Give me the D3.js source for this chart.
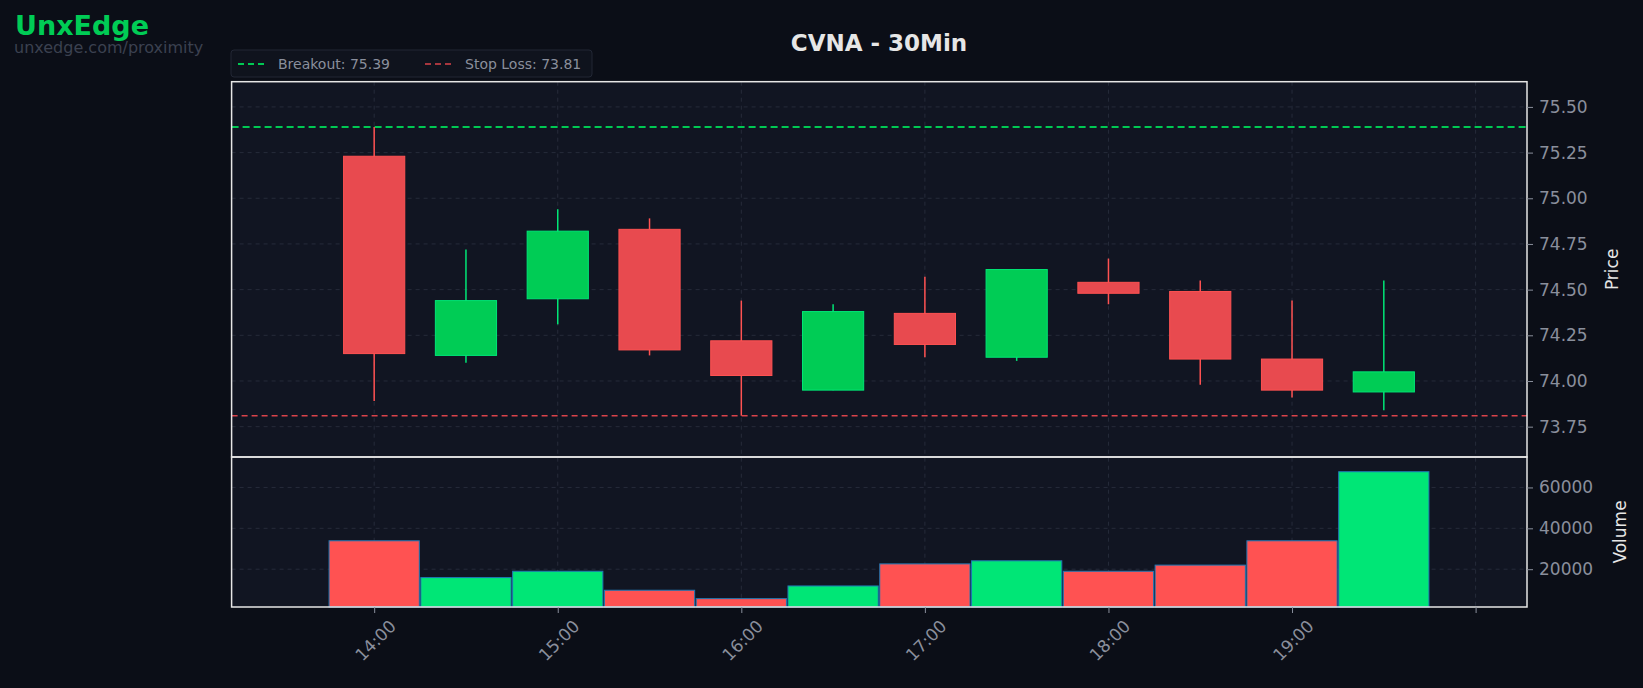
<!DOCTYPE html>
<html><head><meta charset="utf-8">
<script src="https://cdn.jsdelivr.net/npm/d3@7"></script>
<style>
body{margin:0;background:#0b0e17;font-family:"DejaVu Sans",sans-serif;}
</style></head>
<body><svg id="chart" width="1643" height="688"></svg>
<script>
// Candle data, 30 minute bars
const times = ['14:00','14:30','15:00','15:30','16:00','16:30','17:00','17:30','18:00','18:30','19:00','19:30'];
const opens  = [75.23, 74.14, 74.45, 74.83, 74.22, 73.95, 74.37, 74.13, 74.54, 74.49, 74.12, 73.94];
const highs  = [75.39, 74.72, 74.94, 74.89, 74.44, 74.42, 74.57, 74.61, 74.67, 74.55, 74.44, 74.55];
const lows   = [73.89, 74.10, 74.31, 74.14, 73.81, 73.95, 74.13, 74.11, 74.42, 73.98, 73.91, 73.84];
const closes = [74.15, 74.44, 74.82, 74.17, 74.03, 74.38, 74.20, 74.61, 74.48, 74.12, 73.95, 74.05];
const volumes = [33900, 15900, 19000, 9700, 5600, 11800, 22600, 24100, 19000, 22000, 33900, 67700];
const breakout = 75.39, stopLoss = 73.81;
const priceTicks = [73.75, 74.00, 74.25, 74.50, 74.75, 75.00, 75.25, 75.50];
const volTicks = [20000, 40000, 60000];
const hourTicks = ['14:00','15:00','16:00','17:00','18:00','19:00','20:00'];

const svg = d3.select('#chart');
const L = 231.6, R = 1527, T = 81.7, PB = 457, VB = 607;

// minutes since midnight
const toMin = s => { let p = s.split(':'); return +p[0]*60 + +p[1]; };
const x = d3.scaleLinear().domain([13*60+13.4, 20*60+16.8]).range([L, R]);
const y = d3.scaleLinear().domain([73.584, 75.638]).range([PB, T]);
const yv = d3.scaleLinear().domain([1500, 74900]).range([VB, PB]);

const red = '#ff5252', green = '#00e676', grid = '#262b3a', tickCol = '#8a8f9c';

// panels
svg.append('rect').attr('x', L).attr('y', T).attr('width', R-L).attr('height', VB-T).attr('fill', '#111522');

// gridlines
hourTicks.forEach(t => {
  svg.append('line').attr('x1', x(toMin(t))).attr('x2', x(toMin(t))).attr('y1', T).attr('y2', VB)
    .attr('stroke', grid).attr('stroke-dasharray', '4,4');
});
priceTicks.forEach(v => {
  svg.append('line').attr('x1', L).attr('x2', R).attr('y1', y(v)).attr('y2', y(v))
    .attr('stroke', grid).attr('stroke-dasharray', '4,4');
});
volTicks.forEach(v => {
  svg.append('line').attr('x1', L).attr('x2', R).attr('y1', yv(v)).attr('y2', yv(v))
    .attr('stroke', grid).attr('stroke-dasharray', '4,4');
});

// breakout / stop loss lines
svg.append('line').attr('x1', L).attr('x2', R).attr('y1', y(breakout)).attr('y2', y(breakout))
  .attr('stroke', '#00c853').attr('stroke-width', 2).attr('stroke-dasharray', '7,4');
svg.append('line').attr('x1', L).attr('x2', R).attr('y1', y(stopLoss)).attr('y2', y(stopLoss))
  .attr('stroke', '#d9434a').attr('stroke-width', 1.5).attr('stroke-dasharray', '6,4');

// candles
const bodyW = x(20) - x(0);
times.forEach((t, i) => {
  const up = closes[i] >= opens[i];
  const cx = x(toMin(t));
  svg.append('line').attr('x1', cx).attr('x2', cx).attr('y1', y(highs[i])).attr('y2', y(lows[i]))
    .attr('stroke', up ? green : red).attr('stroke-width', 1.5);
  const top = y(Math.max(opens[i], closes[i])), bot = y(Math.min(opens[i], closes[i]));
  svg.append('rect').attr('x', cx - bodyW/2).attr('y', top).attr('width', bodyW).attr('height', Math.max(bot-top, 1))
    .attr('fill', up ? '#00cc55' : '#e84a4f').attr('stroke', up ? green : red).attr('stroke-width', 1);
});

// volume bars
const volW = x(29.5) - x(0);
times.forEach((t, i) => {
  const up = closes[i] >= opens[i];
  const cx = x(toMin(t));
  svg.append('rect').attr('x', cx - volW/2).attr('y', yv(volumes[i])).attr('width', volW).attr('height', VB - yv(volumes[i]))
    .attr('fill', up ? green : red).attr('stroke', '#1f77b4').attr('stroke-width', 1);
});

// frames
svg.append('rect').attr('x', L).attr('y', T).attr('width', R-L).attr('height', PB-T).attr('fill', 'none').attr('stroke', '#e6e6e6').attr('stroke-width', 1.5);
svg.append('rect').attr('x', L).attr('y', PB).attr('width', R-L).attr('height', VB-PB).attr('fill', 'none').attr('stroke', '#e6e6e6').attr('stroke-width', 1.5);

// axes
const pAxis = svg.append('g').attr('transform', `translate(${R},0)`)
  .call(d3.axisRight(y).tickValues(priceTicks).tickFormat(d3.format('.2f')).tickSize(6).tickPadding(6));
const vAxis = svg.append('g').attr('transform', `translate(${R},0)`)
  .call(d3.axisRight(yv).tickValues(volTicks).tickFormat(d3.format('d')).tickSize(6).tickPadding(6));
const xAxis = svg.append('g').attr('transform', `translate(0,${VB})`)
  .call(d3.axisBottom(x).tickValues(hourTicks.map(toMin)).tickFormat((d, i) => i < 6 ? hourTicks[i] : '').tickSize(6));
[pAxis, vAxis, xAxis].forEach(a => {
  a.select('.domain').remove();
  a.selectAll('.tick line').attr('stroke', tickCol);
  a.selectAll('.tick text').attr('fill', tickCol).style('font-size', '17px').style('font-family', 'DejaVu Sans');
});
xAxis.selectAll('.tick text').attr('text-anchor', 'end').attr('dy', 0)
  .attr('transform', 'translate(16,14) rotate(-45)');

// axis titles
svg.append('text').attr('transform', `translate(1618,${(T+PB)/2}) rotate(-90)`).attr('text-anchor', 'middle')
  .attr('fill', '#e6e6e6').style('font-size', '17px').text('Price');
svg.append('text').attr('transform', `translate(1626,${(PB+VB)/2}) rotate(-90)`).attr('text-anchor', 'middle')
  .attr('fill', '#e6e6e6').style('font-size', '17px').text('Volume');

// title and branding
svg.append('text').attr('x', 879).attr('y', 51).attr('text-anchor', 'middle').attr('fill', '#e6e6e6')
  .style('font-size', '23px').style('font-weight', 'bold').text('CVNA - 30Min');
svg.append('text').attr('x', 15).attr('y', 35).attr('fill', '#00cc55').style('font-size', '27px').style('font-weight', 'bold').text('UnxEdge');
svg.append('text').attr('x', 14).attr('y', 53).attr('fill', '#3b4150').style('font-size', '16px').text('unxedge.com/proximity');

// legend
const lg = svg.append('g');
lg.append('rect').attr('x', 231).attr('y', 50).attr('width', 361).attr('height', 27).attr('rx', 3)
  .attr('fill', '#0f131d').attr('stroke', '#222735');
lg.append('line').attr('x1', 238).attr('x2', 268).attr('y1', 64).attr('y2', 64).attr('stroke', '#00c853').attr('stroke-width', 2).attr('stroke-dasharray', '6,4');
lg.append('text').attr('x', 278).attr('y', 69).attr('fill', '#8a8f9c').style('font-size', '14px').text('Breakout: 75.39');
lg.append('line').attr('x1', 425).attr('x2', 455).attr('y1', 64).attr('y2', 64).attr('stroke', '#d9434a').attr('stroke-width', 1.5).attr('stroke-dasharray', '6,4');
lg.append('text').attr('x', 465).attr('y', 69).attr('fill', '#8a8f9c').style('font-size', '14px').text('Stop Loss: 73.81');
</script>
</body></html>
